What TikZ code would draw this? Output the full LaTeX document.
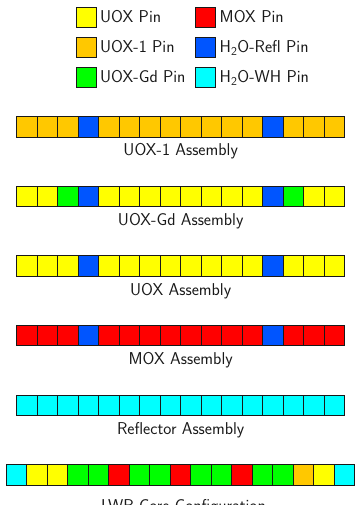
\documentclass[tikz,border=0pt]{standalone}
\definecolor{pinY}{RGB}{255,255,0}
\definecolor{pinO}{RGB}{255,200,0}
\definecolor{pinG}{RGB}{0,255,0}
\definecolor{pinB}{RGB}{0,85,255}
\definecolor{pinR}{RGB}{255,0,0}
\definecolor{pinC}{RGB}{0,255,255}
\newcommand\pinrow[6]{%
  \foreach \c [count=\k from 0] in {#3}
    {\draw[cell, fill=pin\c] (#2+20.5*\k, #1) rectangle ++(20.5,20.5);}
  \node[lbl, anchor=base] (#5) at (#6, #1+39.3) {#4};}
\begin{document}
\begin{tikzpicture}[x=1bp,y=-1bp,
  cell/.style={draw=black!90,line width=1bp},
  lbl/.style={font=\sffamily\fontsize{17.2}{20}\selectfont, text=black!90, inner sep=0pt}]
\useasboundingbox (0,0) rectangle (354,505);
% legend
\draw[cell, fill=pinY] (76,7.3) rectangle ++(20,20);
\node[lbl, anchor=base west] (legY) at (100,22.5) {UOX Pin};
\draw[cell, fill=pinO] (76,37.3) rectangle ++(20,20);
\node[lbl, anchor=base west] (legO) at (100,52.5) {UOX-1 Pin};
\draw[cell, fill=pinG] (76,67.3) rectangle ++(20,20);
\node[lbl, anchor=base west] (legG) at (100,82.5) {UOX-Gd Pin};
\draw[cell, fill=pinR] (195,7.3) rectangle ++(20,20);
\node[lbl, anchor=base west] (legR) at (219.5,22.5) {MOX Pin};
\draw[cell, fill=pinB] (195,37.3) rectangle ++(20,20);
\node[lbl, anchor=base west] (legB) at (219.5,52.5) {H\textsubscript{2}O-Refl Pin};
\draw[cell, fill=pinC] (195,67.3) rectangle ++(20,20);
\node[lbl, anchor=base west] (legC) at (219.5,82.5) {H\textsubscript{2}O-WH Pin};
% assemblies
\pinrow{116.6}{16.7}{O,O,O,B,O,O,O,O,O,O,O,O,B,O,O,O}{UOX-1 Assembly}{a1}{180.7}
\pinrow{186.2}{16.7}{Y,Y,G,B,Y,Y,Y,Y,Y,Y,Y,Y,B,G,Y,Y}{UOX-Gd Assembly}{a2}{180.7}
\pinrow{255.8}{16.7}{Y,Y,Y,B,Y,Y,Y,Y,Y,Y,Y,Y,B,Y,Y,Y}{UOX Assembly}{a3}{180.7}
\pinrow{325.4}{16.7}{R,R,R,B,R,R,R,R,R,R,R,R,B,R,R,R}{MOX Assembly}{a4}{180.7}
\pinrow{395}{16.7}{C,C,C,C,C,C,C,C,C,C,C,C,C,C,C,C}{Reflector Assembly}{a5}{180.7}
% core
\foreach \c [count=\k from 0] in {C,Y,Y,G,G,R,G,G,R,G,G,R,G,G,O,Y,C}
  {\draw[cell, fill=pin\c] (6+20.5*\k, 464.6) rectangle ++(20.5,20.5);}
\node[lbl, anchor=base] (core) at (183.5,511) {LWR Core Configuration};
\end{tikzpicture}
\end{document}
